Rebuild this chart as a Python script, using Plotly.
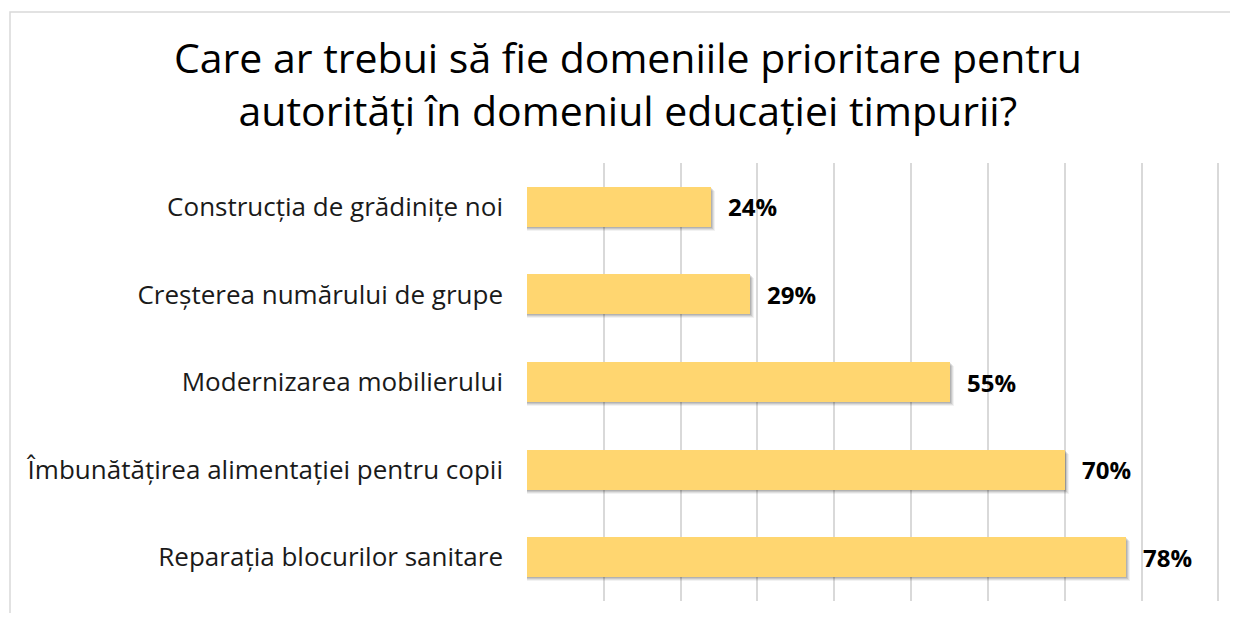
import plotly.graph_objects as go

categories = [
    "Construcția de grădinițe noi",
    "Creșterea numărului de grupe",
    "Modernizarea mobilierului",
    "Îmbunătățirea alimentației pentru copii",
    "Reparația blocurilor sanitare",
]
values = [24, 29, 55, 70, 78]
value_labels = ["24%", "29%", "55%", "70%", "78%"]
title_text = "Care ar trebui să fie domeniile prioritare pentru<br>autorități în domeniul educației timpurii?"

W, H = 1222, 605
ML, MR, MT, MB = 519, 7, 155, 12
PW, PH = W - ML - MR, H - MT - MB
XMAX = 90.6
px_x = XMAX / PW                 # data units per pixel (x)
px_y = len(categories) / PH      # category units per pixel (y)
BAR_W = 0.455

fig = go.Figure()

# soft shadow layers
for dx, dy, a in [(1, 1, 0.10), (2, 2, 0.10), (3, 3, 0.08), (4, 4, 0.05)]:
    fig.add_trace(go.Bar(
        y=categories, x=[v + dx * px_x for v in values], orientation="h",
        width=BAR_W, offset=-BAR_W / 2 + dy * px_y,
        marker=dict(color=f"rgba(0,0,0,{a})", line=dict(width=0)),
        hoverinfo="skip", showlegend=False,
    ))

fig.add_trace(go.Bar(
    y=categories, x=values, orientation="h",
    width=BAR_W, offset=-BAR_W / 2,
    marker=dict(color="#FFD670", line=dict(width=0)),
    showlegend=False,
))

for c, v, t in zip(categories, values, value_labels):
    fig.add_annotation(x=v, y=c, text=f"<b>{t}</b>", showarrow=False,
                       xanchor="left", xshift=15, yshift=0,
                       font=dict(family="Open Sans", size=24, color="#000000"))

# title as annotation
fig.add_annotation(xref="paper", yref="paper",
                   x=(620 - ML) / PW, y=1 + (MT - 19) / PH,
                   xanchor="center", yanchor="top", showarrow=False,
                   text=title_text, align="center",
                   font=dict(family="Open Sans", size=41, color="#000000"))

fig.add_shape(type="rect", xref="paper", yref="paper",
              x0=(2 - ML) / PW, x1=1.2,
              y0=-0.3, y1=1 + (MT - 4) / PH,
              line=dict(color="#d9d9d9", width=1.5), fillcolor="rgba(0,0,0,0)",
              layer="below")

fig.update_layout(
    width=W, height=H,
    margin=dict(l=ML, r=MR, t=MT, b=MB),
    paper_bgcolor="white", plot_bgcolor="white",
    barmode="overlay", bargap=0,
    xaxis=dict(range=[0, XMAX], tick0=0, dtick=10, showticklabels=False,
               showgrid=True, gridcolor="#d9d9d9", gridwidth=2,
               zeroline=False, showline=False, fixedrange=True),
    yaxis=dict(autorange="reversed", showgrid=False, showline=False,
               ticks="", ticklabelstandoff=23,
               tickfont=dict(family="Open Sans", size=26, color="#1a1a1a")),
)

fig.write_html("out.html")
